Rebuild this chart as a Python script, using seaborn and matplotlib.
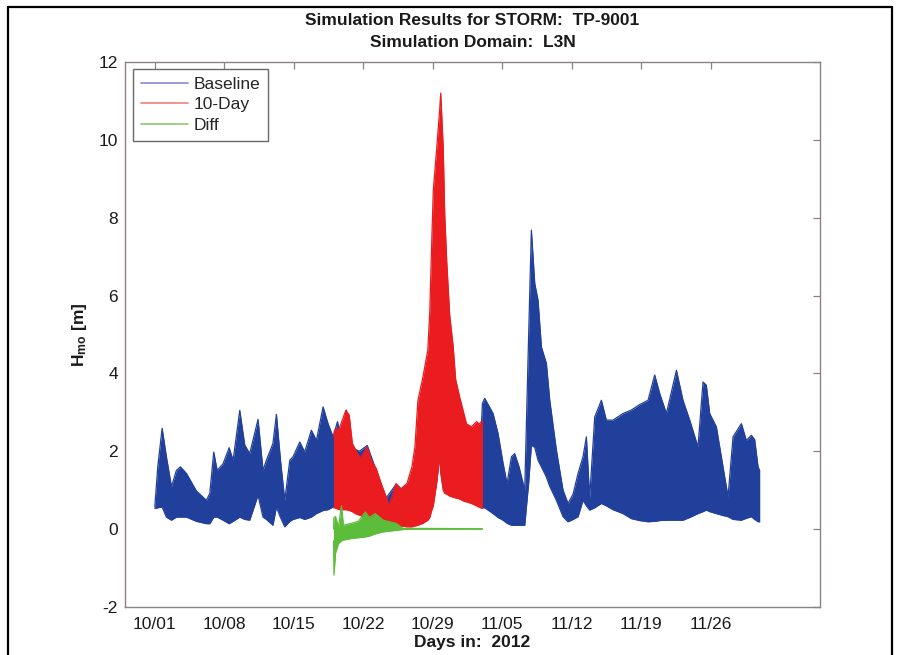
import matplotlib
matplotlib.use("Agg")
import matplotlib.pyplot as plt
from matplotlib.lines import Line2D
import seaborn as sns
import pandas as pd

# ---- data: days since 2012-10-01, upper / lower envelope of H_mo [m] ----
base_day = [0.0, 0.3, 0.74, 1.17, 1.68, 2.18, 2.58, 3.19, 4.19, 5.2, 5.54, 5.94, 6.28, 6.88,
            7.49, 7.89, 8.56, 9.06, 9.56, 10.4, 10.9, 11.24, 11.9, 12.25, 12.66, 13.09, 13.6,
            13.93, 14.6, 15.1, 15.77, 16.28, 16.95, 17.45, 17.96, 18.4, 18.8, 19.3, 19.8, 20.6,
            21.4, 22.3, 23.3, 24.3, 24.8, 25.5, 26.3, 27.2, 28.0, 28.4, 28.7, 28.8, 29.05, 30.0,
            31.0, 32.0, 32.9, 33.0, 33.23, 34.07, 34.57, 35.08, 35.48, 35.92, 36.25, 36.69,
            37.26, 37.66, 37.93, 38.27, 38.6, 38.94, 39.44, 39.78, 40.45, 41.12, 41.62, 42.13,
            42.63, 43.13, 43.47, 43.8, 44.31, 44.98, 45.48, 46.15, 47.16, 48.0, 48.84, 49.68,
            50.35, 50.86, 51.53, 52.54, 53.2, 53.88, 54.71, 55.22, 55.55, 55.89, 56.56, 57.23,
            57.74, 58.24, 59.08, 59.58, 60.09, 60.42, 60.76, 60.93]
base_hi = [0.57, 1.6, 2.59, 1.86, 1.09, 1.51, 1.6, 1.43, 0.98, 0.74, 0.92, 1.98, 1.51, 1.68,
           2.09, 1.77, 3.05, 2.16, 1.94, 2.82, 1.51, 1.77, 2.2, 2.95, 1.77, 0.74, 1.77,
           1.86, 2.24, 1.98, 2.54, 2.28, 3.14, 2.71, 2.37, 2.76, 2.3, 3.06, 2.1, 2.0,
           2.15, 1.5, 0.8, 1.15, 1.02, 1.15, 1.5, 2.0, 2.3, 2.4, 2.5, 2.5, 2.5, 2.3,
           2.5, 2.5, 2.7, 3.23, 3.36, 2.97, 2.46, 1.69, 1.17, 1.86, 1.94, 1.6,
           1.0, 5.03, 7.68, 6.31, 5.88, 4.68, 4.26, 3.31, 2.03, 1.0, 0.66, 0.9,
           1.43, 1.86, 2.37, 0.8, 2.88, 3.31, 2.8, 2.8, 2.97, 3.06, 3.2, 3.31,
           3.96, 3.48, 2.97, 4.08, 3.31, 2.8, 2.11, 3.78, 3.7, 2.97, 2.63, 1.6,
           0.83, 2.37, 2.71, 2.28, 2.41, 2.3, 1.6, 1.5]
base_lo = [0.53, 0.55, 0.57, 0.31, 0.23, 0.31, 0.31, 0.31, 0.2, 0.14, 0.14, 0.31, 0.31, 0.23,
           0.14, 0.2, 0.31, 0.25, 0.23, 0.87, 0.31, 0.25, 0.1, 0.57, 0.3, 0.06, 0.2,
           0.25, 0.3, 0.25, 0.31, 0.4, 0.48, 0.5, 0.57, 0.56, 0.52, 0.52, 0.47, 0.37,
           0.32, 0.27, 0.17, 0.12, 0.1, 0.08, 0.12, 0.3, 0.65, 1.25, 1.95, 1.5, 1.05, 0.85,
           0.75, 0.68, 0.57, 0.55, 0.55, 0.4, 0.3, 0.23, 0.15, 0.1, 0.1, 0.1,
           0.1, 1.2, 2.16, 2.1, 1.77, 1.6, 1.34, 1.1, 0.74, 0.32, 0.19, 0.25,
           0.32, 0.74, 0.6, 0.49, 0.55, 0.66, 0.6, 0.5, 0.4, 0.27, 0.22, 0.19,
           0.2, 0.22, 0.23, 0.23, 0.23, 0.3, 0.4, 0.45, 0.49, 0.45, 0.4, 0.35,
           0.32, 0.25, 0.23, 0.28, 0.32, 0.25, 0.19, 0.19]

ten_day = [18.0, 18.1, 18.6, 19.24, 19.58, 19.9, 20.2, 20.7, 21.4, 21.8, 22.3, 22.8, 23.3,
           23.6, 24.3, 24.8, 25.4, 25.9, 26.2, 26.5, 27.0, 27.5, 27.7, 27.85, 28.05, 28.4,
           28.7, 28.8, 29.05, 29.2, 29.4, 29.7, 30.05, 30.3, 30.7, 31.1, 31.4, 31.9, 32.4,
           32.7, 33.0]
ten_hi = [2.37, 2.54, 2.6, 3.05, 2.93, 2.2, 2.05, 1.82, 2.11, 1.77, 1.56, 1.17, 0.83,
          0.6, 1.17, 1.04, 1.17, 1.6, 2.11, 3.3, 3.9, 4.6, 5.6, 7.0, 8.7, 9.8,
          10.8, 11.2, 9.8, 8.1, 6.9, 5.5, 4.7, 3.85, 3.4, 3.0, 2.7, 2.63, 2.76,
          2.7, 2.8]
ten_lo = [0.55, 0.55, 0.5, 0.5, 0.48, 0.45, 0.4, 0.35, 0.3, 0.28, 0.25, 0.2, 0.15,
          0.12, 0.1, 0.08, 0.06, 0.06, 0.08, 0.1, 0.15, 0.23, 0.3, 0.45, 0.6, 1.2,
          1.9, 1.45, 1.0, 0.92, 0.9, 0.85, 0.82, 0.8, 0.78, 0.72, 0.7, 0.66, 0.6,
          0.56, 0.53]

diff_day = [18.0, 18.05, 18.2, 18.5, 18.8, 19.0, 19.8, 20.5, 21.2, 21.6, 22.2, 23.0, 24.3,
            25.0, 26.0, 33.0]
diff_hi = [0.0, 0.3, 0.32, 0.06, 0.6, 0.1, 0.15, 0.2, 0.44, 0.3, 0.4, 0.23, 0.15,
           0.02, 0.02, 0.01]
diff_lo = [-0.3, -1.18, -0.62, -0.37, -0.3, -0.28, -0.24, -0.22, -0.2, -0.18, -0.12, -0.07,
           -0.03, -0.01, 0.0, 0.0]

tick_days = [0, 7, 14, 21, 28, 35, 42, 49, 56]
tick_labels = ["10/01", "10/08", "10/15", "10/22", "10/29", "11/05", "11/12", "11/19", "11/26"]
y_ticks = [-2, 0, 2, 4, 6, 8, 10, 12]

# ---- style ----
sns.set_style("white")
plt.rcParams["font.family"] = ["Liberation Sans", "DejaVu Sans"]
plt.rcParams["mathtext.fontset"] = "custom"
plt.rcParams["mathtext.rm"] = "Liberation Sans"
plt.rcParams["mathtext.bf"] = "Liberation Sans:bold"
plt.rcParams["axes.unicode_minus"] = False

BLUE = "#21409c"
RED = "#ea1c1f"
GREEN = "#5cbd3a"
SPINE = "#8a8383"
TEXT = "#1a1a1a"

W, H = 897, 655
fig = plt.figure(figsize=(W / 100, H / 100), dpi=100)
fig.patch.set_facecolor("white")
ax = fig.add_axes([125 / W, 1 - 607 / H, (820 - 125) / W, (607 - 62) / H])

series = [
    ("Baseline", base_day, base_hi, base_lo, BLUE, "#8f93d6"),
    ("10-Day", ten_day, ten_hi, ten_lo, RED, "#f2898a"),
    ("Diff", diff_day, diff_hi, diff_lo, GREEN, "#96cf7c"),
]

for k, (name, d, hi, lo, col, _) in enumerate(series):
    z = 2 + 2 * k
    df = pd.DataFrame({"day": d, "hi": hi, "lo": lo})
    ax.fill_between(df["day"], df["lo"], df["hi"], color=col, lw=0, zorder=z)
    sns.lineplot(data=df, x="day", y="hi", ax=ax, color=col, lw=0.9,
                 label=name, zorder=z + 0.5, estimator=None, sort=False)
    sns.lineplot(data=df, x="day", y="lo", ax=ax, color=col, lw=0.9,
                 zorder=z + 0.5, estimator=None, sort=False, legend=False)

ax.set_xlim(-3, 67)
ax.set_ylim(-2, 12)
ax.set_xticks(tick_days)
ax.set_xticklabels(tick_labels)
ax.set_yticks(y_ticks)
ax.tick_params(direction="in", length=5, width=0.9, top=True, right=True,
               color=SPINE, labelsize=12.5, labelcolor=TEXT)
ax.tick_params(axis="x", pad=7)
ax.tick_params(axis="y", pad=5)
for sp in ax.spines.values():
    sp.set_visible(True)
    sp.set_color(SPINE)
    sp.set_linewidth(1.0)

ax.set_xlabel("Days in:  2012", fontsize=12.5, fontweight="bold", color=TEXT, labelpad=2)
ax.set_ylabel(r"$\mathbf{H_{mo}}$ [m]", fontsize=12.5, fontweight="bold", color=TEXT)
ax.yaxis.set_label_coords(-0.052, 0.5)
ax.set_title("Simulation Results for STORM:  TP-9001\nSimulation Domain:  L3N",
             fontsize=12.5, fontweight="bold", color=TEXT, linespacing=1.55, pad=11)

leg = ax.legend(loc="upper left", bbox_to_anchor=(8 / 695, 1 - 7 / 545), fontsize=12.5,
                frameon=True, fancybox=False, framealpha=1, edgecolor="#6e6868",
                handlelength=2.7, handletextpad=0.35, borderpad=0.45, labelspacing=0.3,
                borderaxespad=0)
leg.get_frame().set_linewidth(1.0)
for line, (_, _, _, _, _, pale) in zip(leg.get_lines(), series):
    line.set_color(pale)
    line.set_linewidth(1.3)

# outer frame around the figure
for xs, ys in [([8 / W, 8 / W], [0, 1 - 7 / H]),
               ([8 / W, 892 / W], [1 - 7 / H, 1 - 7 / H]),
               ([892 / W, 892 / W], [0, 1 - 7 / H])]:
    fig.add_artist(Line2D(xs, ys, transform=fig.transFigure, color="black", lw=1.6))

fig.savefig("out.png", dpi=100)
